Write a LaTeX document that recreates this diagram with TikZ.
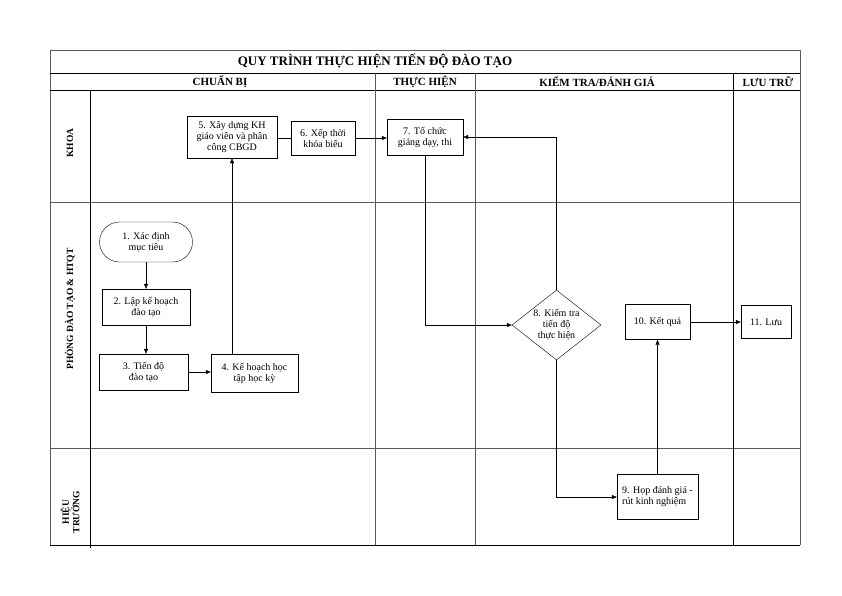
\documentclass[tikz,border=0pt]{standalone}
\usepackage{fontspec}
\setmainfont{Liberation Serif}
\usetikzlibrary{shapes.geometric,arrows.meta}

\begin{document}
\begin{tikzpicture}[x=1pt,y=-1pt,
    box/.style={draw,thin,align=center,inner sep=1pt,font=\fontsize{10}{11}\selectfont},
    term/.style={box,rounded corners=20pt},
    decide/.style={box,diamond,aspect=1.27,inner sep=0pt},
    arr/.style={-{Triangle[length=5pt,width=4pt]}},
    head/.style={font=\bfseries\fontsize{11}{13}\selectfont},
    lane/.style={font=\bfseries\fontsize{9.5}{10.5}\selectfont,rotate=90,align=center},
    rule/.style={gray!70!black,line width=1pt}]
\useasboundingbox (0,0) rectangle (842,595);
% khung
\draw[rule] (50,545) -- (50,50) -- (800,50) -- (800,545);
\draw (50,545) -- (800,545);
\draw (50,73) -- (800,73);
\draw (50,90) -- (800,90);
\draw[gray!70!black] (50,202) -- (800,202);
\draw[gray!70!black] (50,448) -- (800,448);
\draw (90,90) -- (90,548);
\draw[gray!70!black] (375,73) -- (375,545);
\draw[gray!70!black] (475,73) -- (475,545);
\draw (733,73) -- (733,545);
\node[font=\bfseries\fontsize{13}{15}\selectfont] (title) at (375,61) {QUY TRÌNH THỰC HIỆN TIẾN ĐỘ ĐÀO TẠO};
\node[head] (hprep) at (220,82) {CHUẨN BỊ};
\node[head] (hdo) at (425,82) {THỰC HIỆN};
\node[head] (hcheck) at (597,82) {KIỂM TRA/ĐÁNH GIÁ};
\node[head] (hstore) at (768,82) {LƯU TRỮ};
\node[lane] (lkhoa) at (70,143) {KHOA};
\node[lane] (lphong) at (70,309) {PHÒNG ĐÀO TẠO \& HTQT};
\node[lane] (lhieu) at (70,512) {HIỆU\\TRƯỞNG};
% cac buoc
\node[term,minimum width=93pt,minimum height=40pt] (n1) at (146,242) {1. Xác định\\mục tiêu};
\node[box,minimum width=88pt,minimum height=36pt] (n2) at (146,307) {2. Lập kế hoạch\\đào tạo};
\node[box,minimum width=89pt,minimum height=36pt] (n3) at (143.5,372) {3. Tiến độ\\đào tạo};
\node[box,minimum width=87pt,minimum height=38pt] (n4) at (254.5,373) {4. Kế hoạch học\\tập học kỳ};
\node[box,minimum width=90pt,minimum height=42pt] (n5) at (232,137) {5. Xây dựng KH\\giáo viên và phân\\công CBGD};
\node[box,minimum width=64pt,minimum height=34pt] (n6) at (323,138) {6. Xếp thời\\khóa biểu};
\node[box,minimum width=76pt,minimum height=36pt] (n7) at (425,137) {7. Tổ chức\\giảng dạy, thi};
\node[decide,minimum width=89pt,minimum height=70pt] (n8) at (556.5,325) {8. Kiểm tra\\tiến độ\\thực hiện};
\node[box,minimum width=81pt,minimum height=45pt,align=left] (n9) at (657.5,497) {9. Họp đánh giá -\\rút kinh nghiệm};
\node[box,minimum width=65pt,minimum height=35pt] (n10) at (657.5,322) {10. Kết quả};
\node[box,minimum width=50pt,minimum height=33pt] (n11) at (766,322) {11. Lưu};
% noi
\draw[arr] (n1.south) -- (n1.south |- n2.north);
\draw[arr] (n2.south) -- (n2.south |- n3.north);
\draw[arr] (n3.east) -- (n3.east -| n4.west);
\draw[arr] (n5.south |- n4.north) -- (n5.south);
\draw (n6.west -| n5.east) -- (n6.west);
\draw[arr] (n6.east) -- (n6.east -| n7.west);
\draw[arr] (n7.south) |- (n8.west);
\draw[arr] (n8.north) |- (n7.east);
\draw[arr] (n8.south) |- (n9.west);
\draw[arr] (n9.north) -- (n10.south);
\draw[arr] (n10.east) -- (n11.west);
\end{tikzpicture}
\end{document}
